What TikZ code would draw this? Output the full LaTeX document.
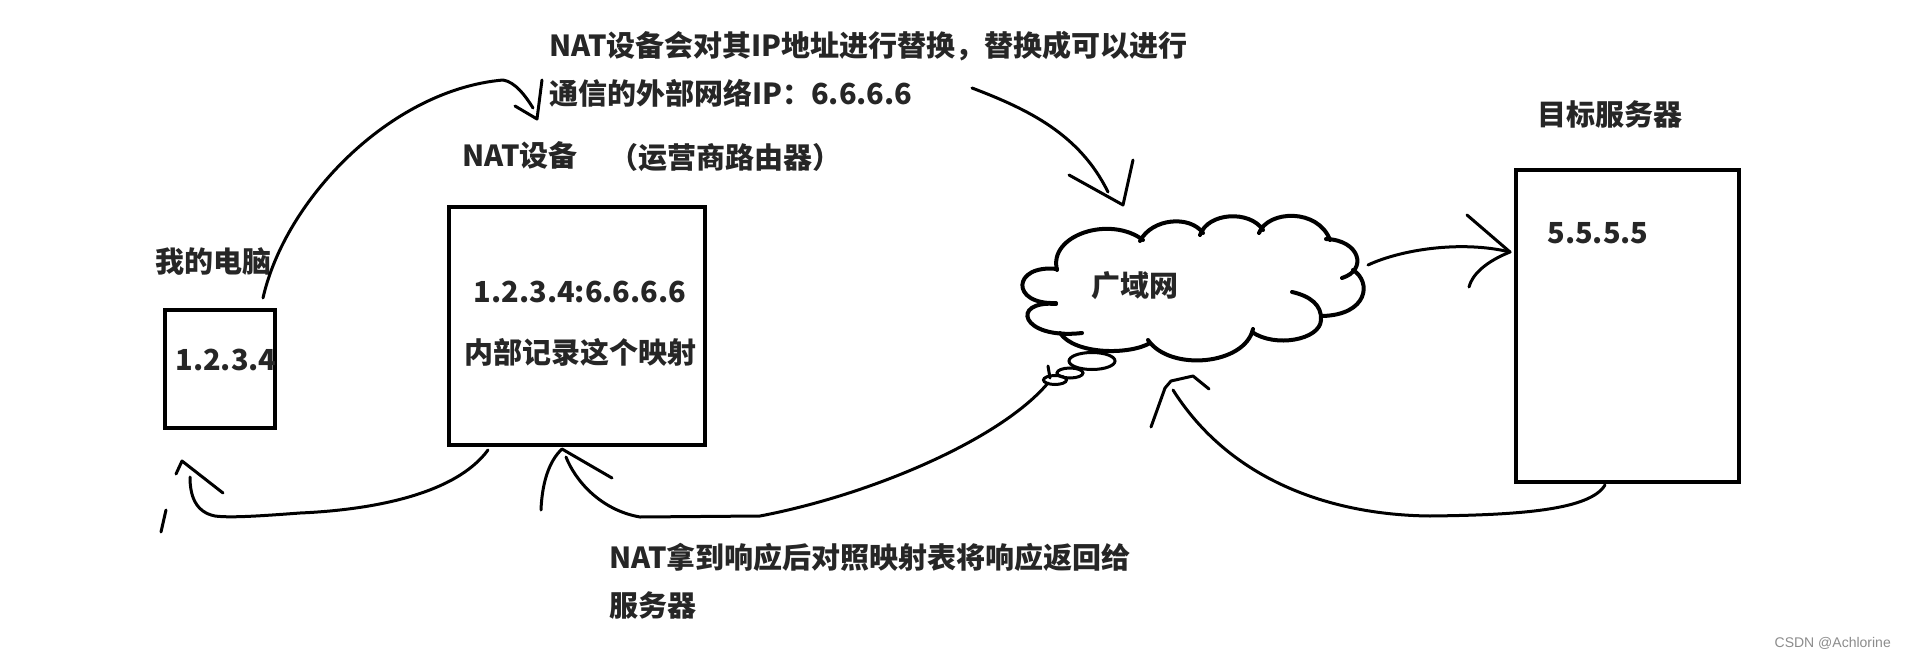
\documentclass[tikz,border=0pt]{standalone}
\usepackage{fontspec}
\setmainfont{Noto Sans CJK SC}
\newfontfamily\wmfont{Liberation Sans}
\begin{document}
\begin{tikzpicture}[x=1pt,y=-1pt,
  txt/.style={font=\fontsize{29}{34}\selectfont\bfseries, text=black!85, inner sep=0pt},
  boxnode/.style={draw=black, line width=4.5pt, inner sep=0pt},
  hand/.style={draw=black, line width=3pt, line cap=round, line join=round},
  puff/.style={draw=black, line width=4pt, line cap=round},
  bub/.style={draw=black, line width=3pt}]
\useasboundingbox (0,0) rectangle (1906,658);
\fill[white] (0,0) rectangle (1906,658);

% boxes
\node[boxnode, minimum width=110pt, minimum height=118pt] (pc) at (220,369) {};
\node[boxnode, minimum width=256pt, minimum height=238pt] (nat) at (577,326) {};
\node[boxnode, minimum width=223pt, minimum height=312pt] (srv) at (1627.5,326) {};

% texts
\node[txt] (pcip) at (226,360) {1.2.3.4};
\node[txt] (pclab) at (213,261) {我的电脑};
\node[txt] (natlab) at (520,155) {NAT设备};
\node[txt] (isp) at (725,158) {（运营商路由器）};
\node[txt] (natmap) at (580,292) {1.2.3.4:6.6.6.6};
\node[txt] (natrec) at (580,352) {内部记录这个映射};
\node[txt,anchor=west] (top1) at (549,46) {NAT设备会对其IP地址进行替换，替换成可以进行};
\node[txt,anchor=west] (top2) at (549,93) {通信的外部网络IP：6.6.6.6};
\node[txt] (srvlab) at (1610,114) {目标服务器};
\node[txt] (srvip) at (1598,233) {5.5.5.5};
\node[txt] (wanlab) at (1135,286) {广域网};
\node[txt,anchor=west] (bot1) at (609,557) {NAT拿到响应后对照映射表将响应返回给};
\node[txt,anchor=west] (bot2) at (609,605) {服务器};
\node[anchor=east, font=\wmfont\fontsize{14}{16}\selectfont, text=black!45, inner sep=0pt] (wm) at (1891,643) {CSDN @Achlorine};

% cloud (wide area network)
\draw[puff] (1057,269) .. controls (1012,264) and (1010,305) .. (1056,303);
\draw[puff] (1057,270) .. controls (1048,235) and (1110,215) .. (1143,240);
\draw[puff] (1140,241) .. controls (1152,218) and (1190,215) .. (1203,233);
\draw[puff] (1200,235) .. controls (1208,212) and (1250,210) .. (1263,230);
\draw[puff] (1259,233) .. controls (1268,210) and (1318,208) .. (1330,240);
\draw[puff] (1326,239) .. controls (1360,240) and (1368,270) .. (1342,278);
\draw[puff] (1353,270) .. controls (1372,282) and (1368,315) .. (1322,316);
\draw[puff] (1292,292) .. controls (1310,296) and (1322,305) .. (1321,320) .. controls (1320,340) and (1275,348) .. (1252,332);
\draw[puff] (1253,329) .. controls (1245,365) and (1170,372) .. (1148,340);
\draw[puff] (1150,343) .. controls (1130,355) and (1075,355) .. (1060,333);
\draw[puff] (1082,333) .. controls (1020,340) and (1010,300) .. (1056,304);
\draw[bub] (1092,361) ellipse [x radius=23, y radius=8.5];
\draw[bub] (1070,373) ellipse [x radius=13, y radius=5];
\draw[bub] (1055,380) ellipse [x radius=11.5, y radius=4.5];
\draw[hand] (1048,366) -- (1050,378);

% connector end points
\coordinate (a1s) at (263,298);  \coordinate (a1t) at (537,119);
\coordinate (a2s) at (972,88);   \coordinate (a2t) at (1123,205);
\coordinate (a3s) at (1368,265); \coordinate (a3t) at (1510,252);
\coordinate (a4s) at (1605,485); \coordinate (a4t) at (1171,381);
\coordinate (a5s) at (1048,383); \coordinate (a5t) at (562,449);
\coordinate (a6s) at (488,450);  \coordinate (a6t) at (182,461);

% PC -> NAT
\draw[hand] (a1s) .. controls (285,200) and (390,90) .. (503,80) .. controls (515,82) and (525,95) .. (533,108);
\draw[hand] (515,106) -- (a1t) -- (542,80);
% text -> cloud
\draw[hand] (a2s) .. controls (1030,110) and (1080,135) .. (1108,192);
\draw[hand] (1069,175) -- (a2t) -- (1133,160);
% cloud -> server
\draw[hand] (a3s) .. controls (1400,250) and (1460,240) .. (a3t);
\draw[hand] (1467,215) -- (a3t) .. controls (1485,262) and (1472,275) .. (1469,287);
% server -> cloud
\draw[hand] (a4s) .. controls (1590,510) and (1520,515) .. (1430,516) .. controls (1330,515) and (1230,480) .. (1173,390);
\draw[hand] (1151,427) -- (1165,388) -- (a4t) -- (1193,376) -- (1209,389);
% cloud -> NAT
\draw[hand] (a5s) .. controls (1000,440) and (870,495) .. (760,516) -- (640,517) .. controls (600,510) and (575,480) .. (566,457);
\draw[hand] (541,510) .. controls (542,485) and (548,462) .. (a5t) -- (612,478);
% NAT -> PC
\draw[hand] (a6s) .. controls (455,495) and (370,510) .. (300,513) .. controls (260,516) and (230,518) .. (215,516) .. controls (195,512) and (190,495) .. (190,477);
\draw[hand] (176,474) -- (a6t) -- (223,493);
\draw[hand] (166,510) -- (161,532);
\end{tikzpicture}
\end{document}
